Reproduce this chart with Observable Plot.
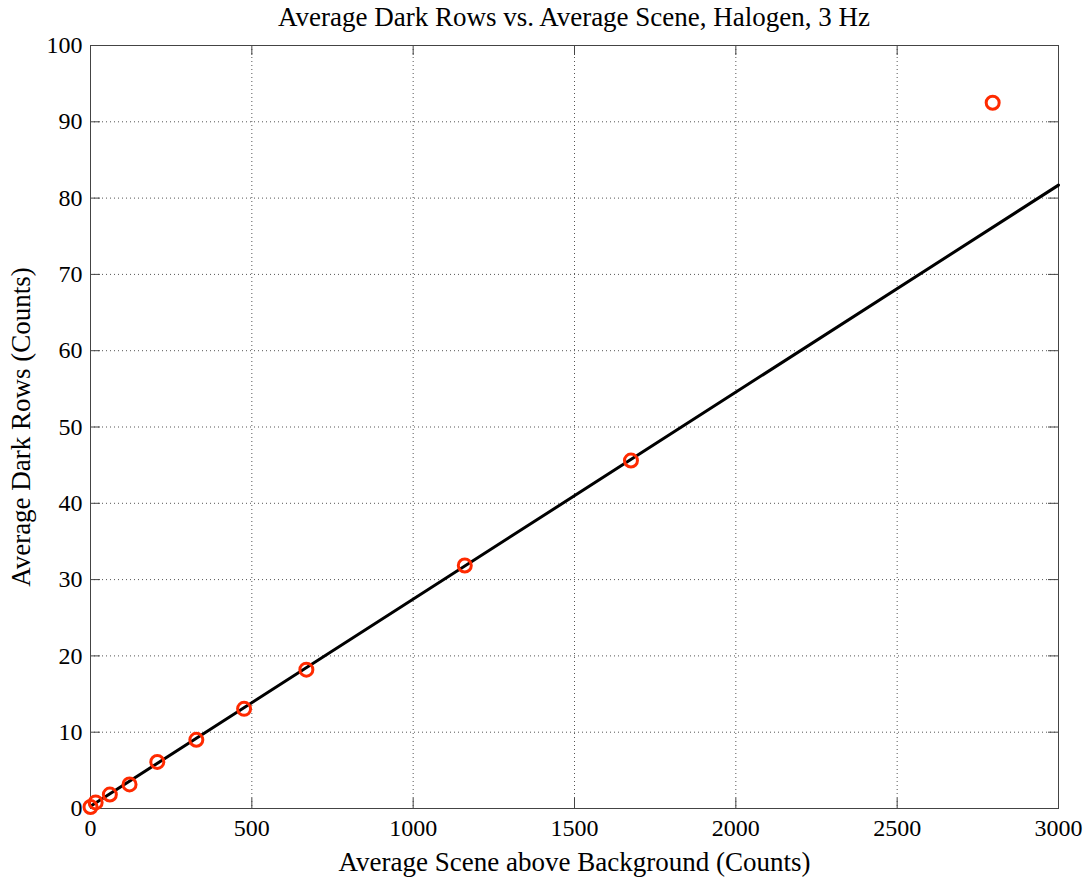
<!DOCTYPE html>
<html><head><meta charset="utf-8">
<script src="https://cdn.jsdelivr.net/npm/d3@7"></script>
<script src="https://cdn.jsdelivr.net/npm/@observablehq/plot@0.6"></script>
<style>
body{margin:0;background:#fff;font-family:"Liberation Serif","Times New Roman",serif;}
#title{height:32px;line-height:34px;width:968px;padding-left:90px;text-align:center;font-size:27px;color:#000;white-space:nowrap;overflow:visible;}
#chart svg{display:block;overflow:visible;}
</style></head>
<body>
<div id="title">Average Dark Rows vs. Average Scene, Halogen, 3 Hz</div>
<div id="chart"></div>
<script>
const sceneCounts = [0, 16, 60, 121, 207, 328, 476, 669, 1160, 1675, 2796];
const darkRowCounts = [0.2, 0.8, 1.83, 3.15, 6.1, 9.0, 13.06, 18.2, 31.85, 45.6, 92.5];
const fitScene = [0, 3000];
const fitDark = [0.3, 81.7];
const xTicks = [0, 500, 1000, 1500, 2000, 2500, 3000];
const yTicks = [0, 10, 20, 30, 40, 50, 60, 70, 80, 90, 100];

const points = sceneCounts.map((x, i) => ({x, y: darkRowCounts[i]}));
const fit = fitScene.map((x, i) => ({x, y: fitDark[i]}));

const W = 1087, H = 845, mT = 13, mB = 69, mL = 90, mR = 29;
const innerH = H - mT - mB, innerW = W - mL - mR, tk = 10;

const chart = Plot.plot({
  width: W, height: H,
  marginTop: mT, marginBottom: mB, marginLeft: mL, marginRight: mR,
  style: {fontFamily: '"Liberation Serif","Times New Roman",serif', fontSize: "24px", color: "#000", background: "#fff"},
  x: {domain: [0, 3000]},
  y: {domain: [0, 100]},
  marks: [
    Plot.gridX(xTicks, {stroke: "#555", strokeOpacity: 1, strokeDasharray: "1,3"}),
    Plot.gridY(yTicks, {stroke: "#555", strokeOpacity: 1, strokeDasharray: "1,3"}),
    Plot.tickX(xTicks, {x: d => d, insetTop: innerH - tk, stroke: "#444"}),
    Plot.tickX(xTicks, {x: d => d, insetBottom: innerH - tk, stroke: "#444"}),
    Plot.tickY(yTicks, {y: d => d, insetRight: innerW - tk, stroke: "#444"}),
    Plot.tickY(yTicks, {y: d => d, insetLeft: innerW - tk, stroke: "#444"}),
    Plot.frame({stroke: "#444"}),
    Plot.axisX(xTicks, {tickSize: 0, tickPadding: 10, fontSize: 24, tickFormat: d3.format("d"), label: null}),
    Plot.axisX({ticks: [], tickSize: 0, fontSize: 27,
      label: "Average Scene above Background (Counts)", labelAnchor: "center", labelArrow: "none", labelOffset: 62}),
    Plot.axisY(yTicks, {tickSize: 0, tickPadding: 8, fontSize: 24, tickFormat: d3.format("d"), label: null}),
    Plot.axisY({ticks: [], tickSize: 0, fontSize: 27,
      label: "Average Dark Rows (Counts)", labelAnchor: "center", labelArrow: "none", labelOffset: 80}),
    Plot.line(fit, {x: "x", y: "y", stroke: "#000", strokeWidth: 3}),
    Plot.dot(points, {x: "x", y: "y", r: 6.5, stroke: "#ff2a00", strokeWidth: 3, fill: "none"})
  ]
});
document.getElementById("chart").appendChild(chart);
</script>
</body></html>
